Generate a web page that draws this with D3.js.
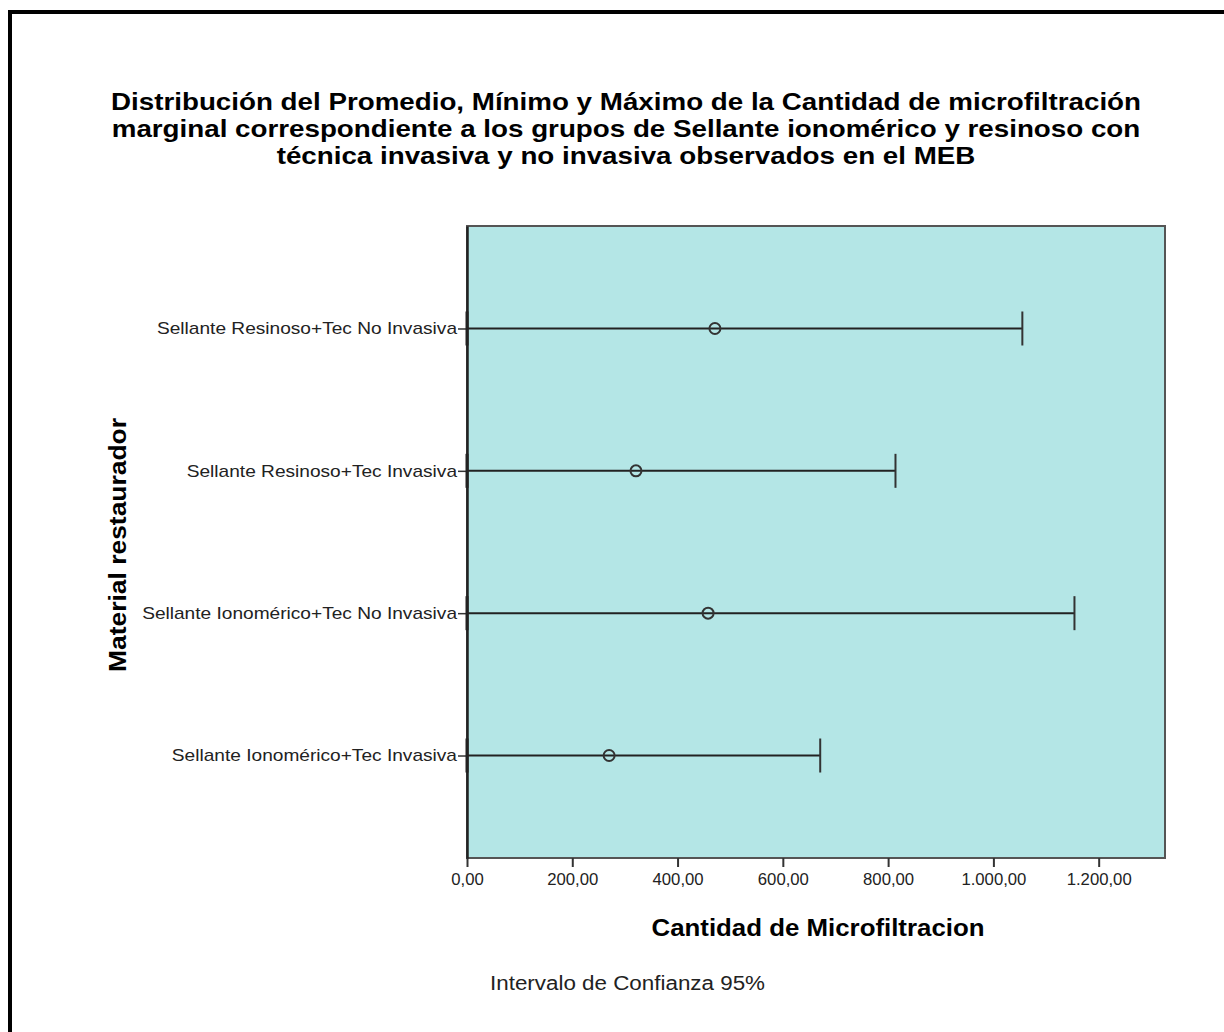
<!DOCTYPE html>
<meta charset="utf-8">
<script src="https://d3js.org/d3.v7.min.js"></script>
<style>
  body { margin: 0; background: #fff; }
  text { font-family: "Liberation Sans", Arial, sans-serif; }
</style>
<div id="my_dataviz"></div>
<script>

// data
var groups = ["Sellante Resinoso+Tec No Invasiva", "Sellante Resinoso+Tec Invasiva",
              "Sellante Ionomérico+Tec No Invasiva", "Sellante Ionomérico+Tec Invasiva"];
var means  = [471, 321, 458, 270];
var lowers = [0, 0, 0, 0];
var uppers = [1055, 814, 1154, 671];
var xTicks = [0, 200, 400, 600, 800, 1000, 1200];

var W = 1224, H = 1032;
var svg = d3.select("#my_dataviz").append("svg")
    .attr("width", W).attr("height", H);

// squeeze/stretch text horizontally by factor k to match the original widths
function stretch(sel, k) {
  sel.each(function () {
    var w = this.getComputedTextLength();
    d3.select(this).attr("textLength", w * k).attr("lengthAdjust", "spacingAndGlyphs");
  });
}

// outer frame (only left & top visible)
svg.append("path")
    .attr("d", "M10,1032V12H1224")
    .attr("fill", "none").attr("stroke", "#000").attr("stroke-width", 4);

// title
var title = ["Distribución del Promedio, Mínimo y Máximo de la Cantidad de microfiltración",
             "marginal correspondiente a los grupos de Sellante ionomérico y resinoso con",
             "técnica invasiva y no invasiva observados en el MEB"];
var tt = svg.append("g").selectAll("text").data(title).enter().append("text")
    .attr("x", 626).attr("y", function (d, i) { return 110 + i * 27; })
    .attr("text-anchor", "middle")
    .style("font-size", "24.5px").style("font-weight", "bold")
    .text(function (d) { return d; });
stretch(tt, 1030 / tt.node().getComputedTextLength());

var pLeft = 467, pRight = 1165, pTop = 226, pBottom = 858;

var x = d3.scaleLinear().domain([0, 1326]).range([pLeft, pRight]);
var y = d3.scalePoint().domain(groups).range([pTop, pBottom]).padding(0.72);

// plot background
svg.append("rect")
    .attr("x", pLeft).attr("y", pTop)
    .attr("width", pRight - pLeft).attr("height", pBottom - pTop)
    .attr("fill", "#b4e6e6").attr("stroke", "#555").attr("stroke-width", 2);

// X axis
var xAxis = svg.append("g")
    .attr("transform", "translate(0," + pBottom + ")")
    .call(d3.axisBottom(x).tickValues(xTicks).tickSize(9).tickSizeOuter(0)
      .tickFormat(function (d) {
        return d3.format(",.2f")(d).replace(/,/g, "#").replace(".", ",").replace(/#/g, ".");
      }));
xAxis.select(".domain").remove();
xAxis.selectAll("line").attr("stroke", "#333").attr("stroke-width", 2);
var xt = xAxis.selectAll("text").style("font-size", "16px").style("font-family", "'Liberation Sans', Arial, sans-serif")
    .attr("fill", "#222").attr("dy", "0.95em");
stretch(xt, 65 / xt.nodes()[6].getComputedTextLength());

// Y axis
var yAxis = svg.append("g")
    .attr("transform", "translate(" + pLeft + ",0)")
    .call(d3.axisLeft(y).tickSize(9).tickPadding(1).tickSizeOuter(0));
yAxis.select(".domain").attr("stroke", "#222").attr("stroke-width", 2.5);
yAxis.selectAll("line").attr("stroke", "#333").attr("stroke-width", 1.5);
var yt = yAxis.selectAll("text").style("font-size", "17px").style("font-family", "'Liberation Sans', Arial, sans-serif")
    .attr("fill", "#222");
stretch(yt, 300 / yt.nodes()[0].getComputedTextLength());

// error bars
var bars = svg.append("g").selectAll("g").data(groups).enter().append("g");
bars.append("line")
    .attr("x1", function (d, i) { return x(lowers[i]); })
    .attr("x2", function (d, i) { return x(uppers[i]); })
    .attr("y1", function (d) { return y(d); }).attr("y2", function (d) { return y(d); })
    .attr("stroke", "#222").attr("stroke-width", 2);
bars.append("line")
    .attr("x1", function (d, i) { return x(uppers[i]); })
    .attr("x2", function (d, i) { return x(uppers[i]); })
    .attr("y1", function (d) { return y(d) - 17; }).attr("y2", function (d) { return y(d) + 17; })
    .attr("stroke", "#333").attr("stroke-width", 2);
bars.append("line")
    .attr("x1", function (d, i) { return x(lowers[i]); })
    .attr("x2", function (d, i) { return x(lowers[i]); })
    .attr("y1", function (d) { return y(d) - 17; }).attr("y2", function (d) { return y(d) + 17; })
    .attr("stroke", "#222").attr("stroke-width", 3);
bars.append("circle")
    .attr("cx", function (d, i) { return x(means[i]); })
    .attr("cy", function (d) { return y(d); })
    .attr("r", 5.5)
    .attr("fill", "none").attr("stroke", "#333").attr("stroke-width", 2);

// axis titles
var xl = svg.append("text")
    .attr("x", 818).attr("y", 936)
    .attr("text-anchor", "middle")
    .style("font-size", "23px").style("font-weight", "bold")
    .text("Cantidad de Microfiltracion");
stretch(xl, 333 / xl.node().getComputedTextLength());

var yl = svg.append("text")
    .attr("transform", "translate(126,545) rotate(-90)")
    .attr("text-anchor", "middle")
    .style("font-size", "23px").style("font-weight", "bold")
    .text("Material restaurador");
stretch(yl, 254 / yl.node().getComputedTextLength());

var fn = svg.append("text")
    .attr("x", 490).attr("y", 990)
    .style("font-size", "20px").attr("fill", "#222")
    .text("Intervalo de Confianza 95%");
stretch(fn, 275 / fn.node().getComputedTextLength());

</script>
